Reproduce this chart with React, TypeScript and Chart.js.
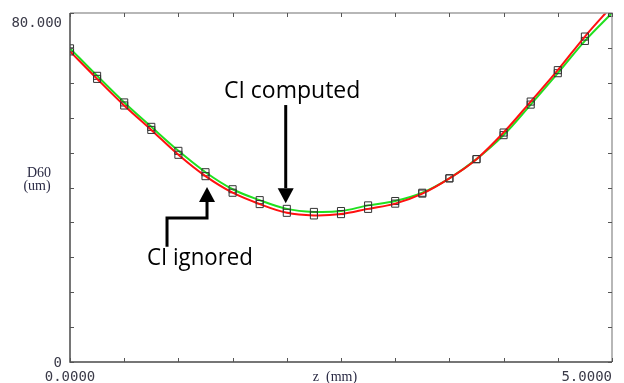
import React, { useEffect, useRef } from "react";
import { Chart, registerables } from "chart.js";

Chart.register(...registerables);

const zValues = [0, 0.25, 0.5, 0.75, 1.0, 1.25, 1.5, 1.75, 2.0, 2.25, 2.5, 2.75, 3.0, 3.25, 3.5, 3.75, 4.0, 4.25, 4.5, 4.75, 5.0];
const ciComputed = [71.9, 65.6, 59.5, 53.9, 48.4, 43.5, 39.6, 37.1, 35.1, 34.4, 34.6, 35.9, 36.9, 38.8, 42.1, 46.5, 52.0, 59.0, 66.2, 73.6, 80.0];
const ciIgnored = [71.2, 64.9, 58.8, 53.2, 47.5, 42.6, 38.8, 36.2, 34.2, 33.6, 33.9, 35.1, 36.3, 38.6, 42.1, 46.5, 52.6, 59.7, 66.9, 74.6, 81.6];

const xTicks = [0, 0.5, 1, 1.5, 2, 2.5, 3, 3.5, 4, 4.5, 5];
const yTicks = [0, 8, 16, 24, 32, 40, 48, 56, 64, 72, 80];
const xMin = 0, xMax = 5, yMin = 0, yMax = 80;
const yTopLabel = "80.000";
const yBottomLabel = "0";
const xLeftLabel = "0.0000";
const xRightLabel = "5.0000";
const xTitle = "z  (mm)";
const yTitle = ["D60", "(um)"];

// annotations in data coordinates
const computedText = { text: "CI computed", x: 1.42, y: 60.5 };
const computedArrow = [{ x: 1.99, y: 58.9 }, { x: 1.99, y: 36.4 }];
const ignoredText = { text: "CI ignored", x: 0.71, y: 22.2 };
const ignoredArrow = [{ x: 0.895, y: 26.4 }, { x: 0.895, y: 33.0 }, { x: 1.264, y: 33.0 }, { x: 1.264, y: 40.1 }];

const overlay = {
  id: "overlay",
  afterDraw(chart: any) {
    const { ctx, chartArea: a, scales } = chart;
    const xs = scales.x, ys = scales.y;
    const px = (v: number) => xs.getPixelForValue(v);
    const py = (v: number) => ys.getPixelForValue(v);
    ctx.save();
    // frame
    ctx.lineWidth = 1.5;
    ctx.strokeStyle = "#a0a0a0";
    ctx.beginPath();
    ctx.moveTo(a.left, a.top); ctx.lineTo(a.right, a.top); ctx.lineTo(a.right, a.bottom);
    ctx.stroke();
    ctx.strokeStyle = "#4a4a4a";
    ctx.beginPath();
    ctx.moveTo(a.left, a.top); ctx.lineTo(a.left, a.bottom); ctx.lineTo(a.right, a.bottom);
    ctx.stroke();
    // ticks
    ctx.lineWidth = 1;
    ctx.strokeStyle = "#555";
    const tl = 4;
    ctx.beginPath();
    xTicks.forEach((t) => {
      const x = Math.round(px(t)) + 0.5;
      ctx.moveTo(x, a.bottom); ctx.lineTo(x, a.bottom - tl);
      ctx.moveTo(x, a.top); ctx.lineTo(x, a.top + tl);
    });
    yTicks.forEach((t) => {
      const y = Math.round(py(t)) + 0.5;
      ctx.moveTo(a.left, y); ctx.lineTo(a.left + tl, y);
      ctx.moveTo(a.right, y); ctx.lineTo(a.right - tl, y);
    });
    ctx.stroke();
    // tick labels
    ctx.fillStyle = "#3a3a48";
    ctx.font = "14px 'DejaVu Sans Mono'";
    ctx.textBaseline = "middle";
    ctx.textAlign = "right";
    ctx.fillText(yTopLabel, a.left - 8, py(yMax) + 10);
    ctx.fillText(yBottomLabel, a.left - 8, py(yMin) + 1);
    ctx.textAlign = "center";
    ctx.fillText(xLeftLabel, px(xMin), a.bottom + 15);
    ctx.textAlign = "right";
    ctx.fillText(xRightLabel, px(xMax), a.bottom + 15);
    // titles
    ctx.fillStyle = "#2a2a44";
    ctx.font = "14px 'Liberation Serif'";
    ctx.textAlign = "center";
    ctx.fillText(xTitle, (a.left + a.right) / 2 - 6, a.bottom + 15);
    ctx.fillText(yTitle[0], a.left - 31, py(40) - 14);
    ctx.fillText(yTitle[1], a.left - 33, py(40) - 1);
    // annotations
    ctx.fillStyle = "#000";
    ctx.strokeStyle = "#000";
    ctx.font = "23px 'Open Sans'";
    ctx.textAlign = "left";
    ctx.textBaseline = "alphabetic";
    ctx.fillText(computedText.text, px(computedText.x), py(computedText.y), 138);
    ctx.fillText(ignoredText.text, px(ignoredText.x), py(ignoredText.y), 106);
    const drawArrow = (pts: { x: number; y: number }[]) => {
      const p = pts.map((q) => ({ x: px(q.x), y: py(q.y) }));
      const tip = p[p.length - 1];
      const prev = p[p.length - 2];
      const dir = Math.sign(tip.y - prev.y);
      const headLen = 15, headHalf = 8;
      ctx.lineWidth = 3;
      ctx.beginPath();
      ctx.moveTo(p[0].x, p[0].y);
      for (let i = 1; i < p.length - 1; i++) ctx.lineTo(p[i].x, p[i].y);
      ctx.lineTo(tip.x, tip.y - dir * headLen);
      ctx.stroke();
      ctx.beginPath();
      ctx.moveTo(tip.x, tip.y);
      ctx.lineTo(tip.x - headHalf, tip.y - dir * headLen);
      ctx.lineTo(tip.x + headHalf, tip.y - dir * headLen);
      ctx.closePath();
      ctx.fill();
    };
    drawArrow(computedArrow);
    drawArrow(ignoredArrow);
    ctx.restore();
  },
};

export default function App() {
  const ref = useRef<HTMLCanvasElement>(null);
  useEffect(() => {
    document.body.style.margin = "0";
    const mk = (vals: number[]) => zValues.map((z, i) => ({ x: z, y: vals[i] }));
    const chart = new Chart(ref.current!, {
      type: "line",
      data: {
        datasets: [
          {
            label: "CI ignored",
            data: mk(ciIgnored),
            borderColor: "#ff1010",
            borderWidth: 2,
            tension: 0.35,
            pointStyle: "rect",
            pointRadius: 5,
            pointBorderColor: "#333",
            pointBackgroundColor: "rgba(0,0,0,0)",
            pointBorderWidth: 1,
          },
          {
            label: "CI computed",
            data: mk(ciComputed),
            borderColor: "#20e020",
            borderWidth: 2,
            tension: 0.35,
            pointStyle: "rect",
            pointRadius: 5,
            pointBorderColor: "#333",
            pointBackgroundColor: "rgba(0,0,0,0)",
            pointBorderWidth: 1,
          },
        ],
      },
      options: {
        animation: false,
        responsive: false,
        layout: { padding: { left: 70, right: 12, top: 13, bottom: 21 } },
        plugins: { legend: { display: false }, tooltip: { enabled: false } },
        scales: {
          x: { type: "linear", min: xMin, max: xMax, display: false },
          y: { type: "linear", min: yMin, max: yMax, display: false },
        },
      },
      plugins: [overlay],
    });
    return () => chart.destroy();
  }, []);
  return (
    <div style={{ position: "absolute", left: 0, top: 0, width: 624, height: 383, background: "#fff" }}>
      <canvas ref={ref} width={624} height={383} />
    </div>
  );
}
